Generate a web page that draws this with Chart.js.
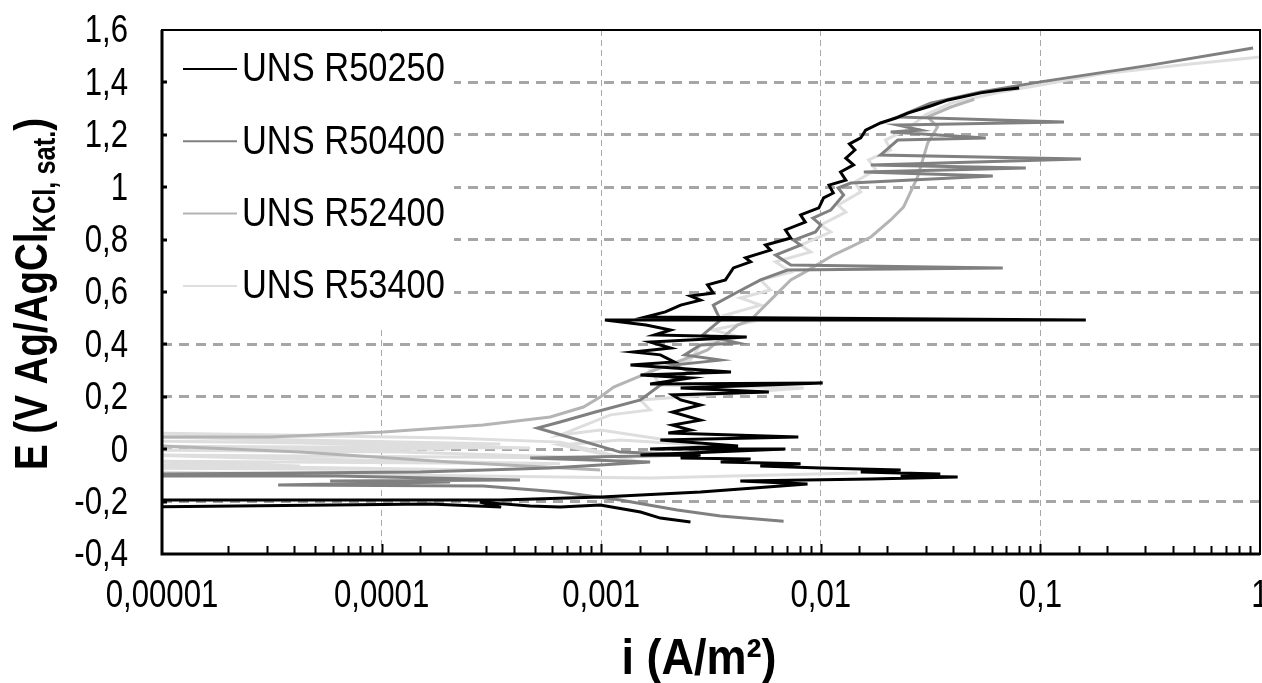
<!DOCTYPE html>
<html>
<head>
<meta charset="utf-8">
<script src="https://cdn.jsdelivr.net/npm/chart.js@4.4.1/dist/chart.umd.min.js"></script>
<style>
html, body { margin: 0; padding: 0; background: #fff; }
#wrap { width: 1262px; height: 683px; }
</style>
</head>
<body>
<div id="wrap"><canvas id="polarization"></canvas></div>
<script>
var seriesNames = ["UNS R50250", "UNS R50400", "UNS R52400", "UNS R53400"]
var seriesColors = ["#000000", "#808080", "#b4b4b4", "#dedede"]

// current density (A/m2) and potential (V) for each alloy, in scan order
var r50250Current = [2.55e-3, 1.86e-3, 1.51e-3, 9.9e-4, 6.5e-4, 4.75e-4, 2.8e-4, 3.5e-4, 1.66e-4, 8e-6,
    8e-6, 1.5e-4, 3.5e-4, 1.0e-3, 2.83e-3, 8.7e-3, 4.3e-3, 1.69e-2, 4.2e-2, 2.31e-2,
    3.5e-2, 1.52e-2, 2.31e-2, 1.0e-2, 5.3e-3, 8.09e-3, 3.5e-3, 4.79e-3, 2.3e-3, 2.83e-3,
    1.51e-3, 6.9e-3, 1.67e-3, 4.2e-3, 1.86e-3, 7.9e-3, 2.02e-3, 2.55e-3, 2.11e-3, 2.83e-3,
    2.11e-3, 2.83e-3, 2.3e-3, 2.11e-3, 5.8e-3, 2.3e-3, 1.02e-2, 1.67e-3, 2.55e-3, 1.51e-3,
    3.9e-3, 1.36e-3, 2.15e-3, 1.86e-3, 1.4e-3, 2.07e-3, 1.67e-3, 4.6e-3, 1.75e-3, 2.07e-3,
    1.6e-3, 1.04e-3, 0.161, 1.6e-3, 1.96e-3, 2.3e-3, 2.83e-3, 2.55e-3, 3.24e-3, 3.05e-3,
    3.68e-3, 4.0e-3, 4.79e-3, 4.54e-3, 5.9e-3, 5.6e-3, 7.3e-3, 6.9e-3, 8.5e-3, 8.09e-3,
    9.8e-3, 1.03e-2, 1.14e-2, 1.09e-2, 1.3e-2, 1.23e-2, 1.41e-2, 1.3e-2, 1.43e-2, 1.35e-2,
    1.52e-2, 1.6e-2, 1.87e-2, 2.2e-2, 2.49e-2, 3.16e-2, 3.8e-2, 5.35e-2, 6.6e-2, 8.0e-2]
var r50250Potential = [-0.278, -0.263, -0.24, -0.213, -0.221, -0.217, -0.202, -0.221, -0.209, -0.221,
    -0.194, -0.194, -0.194, -0.182, -0.163, -0.133, -0.121, -0.114, -0.106, -0.102,
    -0.095, -0.087, -0.079, -0.072, -0.064, -0.056, -0.049, -0.037, -0.034, -0.022,
    -0.022, 0.001, 0.001, 0.012, 0.035, 0.047, 0.062, 0.073, 0.092, 0.111,
    0.142, 0.169, 0.188, 0.207, 0.218, 0.234, 0.253, 0.249, 0.272, 0.283,
    0.295, 0.321, 0.333, 0.36, 0.371, 0.386, 0.409, 0.428, 0.436, 0.455,
    0.474, 0.493, 0.493, 0.505, 0.524, 0.55, 0.569, 0.585, 0.596, 0.627,
    0.646, 0.692, 0.715, 0.73, 0.76, 0.779, 0.806, 0.837, 0.867, 0.894,
    0.921, 0.959, 0.978, 1.008, 1.027, 1.058, 1.085, 1.111, 1.142, 1.165,
    1.188, 1.218, 1.245, 1.264, 1.283, 1.31, 1.333, 1.36, 1.371, 1.379]

var r50400Current = [6.77e-3, 3.49e-3, 2.22e-3, 1.22e-3, 6.5e-4, 2.9e-4, 3.38e-5, 2.05e-4, 5.83e-5, 4.27e-4,
    1.66e-4, 6.3e-5, 8e-6, 8e-6, 1.5e-4, 5.86e-4, 1.67e-3, 4.75e-4, 2.83e-3, 1.22e-3,
    5.12e-4, 6.5e-4, 9.4e-4, 1.51e-3, 1.86e-3, 2.55e-3, 2.13e-3, 3.49e-3, 2.4e-3, 2.83e-3,
    4.2e-3, 2.9e-3, 3.49e-3, 3.24e-3, 4.18e-3, 5.32e-3, 7.06e-3, 6.74e-2, 7.3e-3, 6.22e-3,
    8.09e-3, 7.52e-3, 9.46e-3, 1.0e-2, 9.2e-3, 1.11e-2, 1.27e-2, 1.2e-2, 1.37e-2, 6.07e-2,
    1.57e-2, 8.58e-2, 1.69e-2, 0.153, 1.87e-2, 2.24e-2, 5.64e-2, 2.08e-2, 2.85e-2, 2.24e-2,
    0.128, 2.24e-2, 3.16e-2, 5.35e-2, 0.1, 0.318, 0.93]
var r50400Potential = [-0.275, -0.255, -0.232, -0.194, -0.163, -0.14, -0.137, -0.125, -0.121, -0.118,
    -0.11, -0.102, -0.102, -0.095, -0.087, -0.072, -0.049, -0.034, -0.022, -0.011,
    0.081, 0.104, 0.142, 0.188, 0.245, 0.295, 0.321, 0.34, 0.36, 0.398,
    0.405, 0.436, 0.493, 0.55, 0.6, 0.646, 0.684, 0.692, 0.703, 0.741,
    0.779, 0.798, 0.829, 0.856, 0.882, 0.913, 0.97, 0.997, 1.016, 1.043,
    1.058, 1.073, 1.085, 1.108, 1.123, 1.18, 1.188, 1.211, 1.218, 1.237,
    1.249, 1.268, 1.321, 1.363, 1.402, 1.466, 1.531]

var r52400Current = [9.9e-4, 2.05e-4, 4.26e-5, 8e-6, 8e-6, 3.1e-5, 1.02e-4, 2.9e-4, 5.86e-4, 8.3e-4,
    9.9e-4, 1.14e-3, 1.67e-3, 2.55e-3, 3.05e-3, 4.18e-3, 4.79e-3, 5.9e-3, 7.3e-3, 8.35e-3,
    1.14e-2, 1.37e-2, 1.69e-2, 2.08e-2, 2.38e-2, 2.76e-2, 3.07e-2, 3.4e-2, 3.07e-2, 3.91e-2,
    5.0e-2]
var r52400Potential = [-0.079, -0.049, -0.011, 0.016, 0.047, 0.047, 0.066, 0.092, 0.123, 0.161,
    0.199, 0.237, 0.295, 0.352, 0.379, 0.474, 0.493, 0.569, 0.646, 0.673,
    0.741, 0.772, 0.81, 0.875, 0.924, 1.039, 1.169, 1.23, 1.268, 1.306,
    1.335]

var r53400Current = [1.47e-2, 1.67e-3, 6.5e-4, 1.22e-4, 8e-6, 8e-6, 2.81e-4, 8e-6, 4.26e-5, 8e-6,
    6.5e-4, 2.52e-5, 8e-6, 9.9e-4, 1.22e-4, 8e-6, 2.05e-4, 8e-6, 4.75e-4, 4.26e-5,
    8e-6, 3.47e-4, 8e-6, 7.2e-5, 8e-6, 2.05e-4, 6.5e-4, 1.51e-3, 6.5e-4, 1.22e-3,
    2.83e-3, 9.9e-4, 6.5e-4, 1.1e-3, 1.67e-3, 1.51e-3, 8.35e-3, 1.86e-3, 1.67e-3, 2.55e-3,
    2.83e-3, 4.3e-3, 3.21e-3, 4.79e-3, 3.68e-3, 5.32e-3, 4.3e-3, 5.9e-3, 5.32e-3, 7.3e-3,
    6.22e-3, 9.0e-3, 8.09e-3, 1.11e-2, 1.0e-2, 1.3e-2, 1.2e-2, 1.52e-2, 1.43e-2, 1.78e-2,
    1.65e-2, 2.08e-2, 1.97e-2, 2.44e-2, 3.0e-2, 3.91e-2, 6.6e-2, 0.1, 0.188, 0.437,
    1.01]
var r53400Potential = [-0.091, -0.11, -0.106, -0.098, -0.087, -0.072, -0.079, -0.06, -0.064, -0.045,
    -0.056, -0.034, -0.022, -0.034, -0.011, -0.003, 0.001, 0.012, 0.005, 0.024,
    0.031, 0.02, 0.047, 0.05, 0.062, 0.043, 0.027, -0.049, 0.016, 0.035,
    0.016, 0.073, 0.054, 0.131, 0.15, 0.188, 0.234, 0.245, 0.302, 0.34,
    0.398, 0.428, 0.455, 0.485, 0.512, 0.55, 0.577, 0.608, 0.646, 0.676,
    0.715, 0.753, 0.779, 0.829, 0.856, 0.905, 0.932, 0.982, 1.02, 1.066,
    1.104, 1.142, 1.18, 1.218, 1.276, 1.321, 1.363, 1.39, 1.432, 1.466,
    1.497]

var yTicks = [-0.4, -0.2, 0, 0.2, 0.4, 0.6, 0.8, 1, 1.2, 1.4, 1.6]

// Arial-metric face squeezed horizontally to read as a narrow font
var FACE = "'Liberation Sans', Arial, sans-serif"
var SQUEEZE = 0.82

function toPoints(current, potential) {
    return current.map(function (x, k) {
        return { x: x, y: potential[k] }
    })
}

function isDecade(v) {
    var l = Math.log10(v)
    return Math.abs(l - Math.round(l)) < 1e-6
}

function decadeLabel(v) {
    var e = Math.round(Math.log10(v))
    if (e >= 0) return "1"
    return "0," + "0".repeat(-e - 1) + "1"
}

function commaLabel(v) {
    return (Math.round(v * 10) / 10).toString().replace(".", ",")
}

function narrowText(ctx, text, x, y, font, align, squeeze) {
    ctx.save()
    ctx.font = font
    ctx.textAlign = align
    ctx.translate(x, y)
    ctx.scale(squeeze || SQUEEZE, 1)
    ctx.fillText(text, 0, 0)
    ctx.restore()
}

var curves = [
    toPoints(r50250Current, r50250Potential),
    toPoints(r50400Current, r50400Potential),
    toPoints(r52400Current, r52400Potential),
    toPoints(r53400Current, r53400Potential),
]

// box, inner tick marks, tick labels, legend and axis titles
var frame = {
    id: "frame",
    afterDraw: function (chart) {
        var ctx = chart.ctx
        var a = chart.chartArea
        var xs = chart.scales.x
        var ys = chart.scales.y
        ctx.save()

        // legend panel hides the grid behind it
        ctx.fillStyle = "#fff"
        ctx.fillRect(a.left + 2, a.top + 2, 452 - a.left, 325 - a.top)
        ctx.textBaseline = "middle"
        chart.data.datasets.forEach(function (ds, k) {
            var y = 69 + k * 72.3
            ctx.strokeStyle = ds.borderColor
            ctx.lineWidth = 2
            ctx.beginPath()
            ctx.moveTo(183, y)
            ctx.lineTo(237, y)
            ctx.stroke()
            ctx.fillStyle = "#000"
            narrowText(ctx, ds.label, 242, y + 1, "41px " + FACE, "left", 0.84)
        })

        // plot box
        ctx.strokeStyle = "#000"
        ctx.lineWidth = 2
        ctx.strokeRect(a.left, a.top, a.right - a.left, a.bottom - a.top)
        ctx.lineWidth = 3
        ctx.beginPath()
        ctx.moveTo(a.left, a.top)
        ctx.lineTo(a.left, a.bottom)
        ctx.lineTo(a.right, a.bottom)
        ctx.stroke()

        // x ticks point up into the plot
        ctx.lineWidth = 2
        ctx.beginPath()
        xs.ticks.forEach(function (t) {
            var px = Math.round(xs.getPixelForValue(t.value)) + 0.5
            if (px <= a.left + 1 || px >= a.right - 1) return
            ctx.moveTo(px, a.bottom)
            ctx.lineTo(px, a.bottom - (isDecade(t.value) ? 10 : 8))
        })
        ctx.stroke()

        // y ticks point right into the plot
        ctx.lineWidth = 3
        ctx.beginPath()
        yTicks.forEach(function (v) {
            var py = Math.round(ys.getPixelForValue(v))
            if (py <= a.top + 1 || py >= a.bottom - 1) return
            ctx.moveTo(a.left, py)
            ctx.lineTo(a.left + 5, py)
        })
        ctx.stroke()

        // tick labels
        ctx.fillStyle = "#000"
        ctx.textBaseline = "middle"
        yTicks.forEach(function (v) {
            narrowText(ctx, commaLabel(v), 128, ys.getPixelForValue(v) + 2, "38px " + FACE, "right")
        })
        ctx.textBaseline = "alphabetic"
        xs.ticks.forEach(function (t) {
            if (!isDecade(t.value)) return
            narrowText(ctx, decadeLabel(t.value), xs.getPixelForValue(t.value), 607, "38px " + FACE, "center")
        })

        // y title with subscript
        var main = "E (V Ag/AgCl"
        var sub = "KCl, sat."
        var close = ")"
        var big = "bold 47px " + FACE
        var small = "bold 31px " + FACE
        ctx.font = big
        var wMain = ctx.measureText(main).width * SQUEEZE
        var wClose = ctx.measureText(close).width * SQUEEZE
        ctx.font = small
        var wSub = ctx.measureText(sub).width * SQUEEZE
        var total = wMain + wSub + wClose
        ctx.save()
        ctx.translate(47, 294)
        ctx.rotate(-Math.PI / 2)
        var x0 = -total / 2
        narrowText(ctx, main, x0, 0, big, "left")
        narrowText(ctx, sub, x0 + wMain, 8, small, "left")
        narrowText(ctx, close, x0 + wMain + wSub, 0, big, "left")
        ctx.restore()

        // x title
        narrowText(ctx, "i (A/m²)", 699, 674, "bold 50px " + FACE, "center", 0.9)
        ctx.restore()
    },
}

new Chart("polarization", {
    type: "scatter",
    data: {
        datasets: curves.map(function (pts, k) {
            return {
                label: seriesNames[k],
                data: pts,
                showLine: true,
                borderColor: seriesColors[k],
                backgroundColor: seriesColors[k],
                borderWidth: 3,
                pointRadius: 0,
                tension: 0,
            }
        }),
    },
    options: {
        responsive: true,
        maintainAspectRatio: false,
        devicePixelRatio: 1,
        animation: false,
        layout: { padding: { left: 0, top: 30, right: 2, bottom: 0 } },
        plugins: {
            legend: { display: false },
            tooltip: { enabled: false },
        },
        scales: {
            x: {
                type: "logarithmic",
                min: 1e-5,
                max: 1,
                afterFit: function (s) { s.height = 129 },
                ticks: { display: false, autoSkip: false },
                grid: {
                    drawTicks: false,
                    lineWidth: 1,
                    color: function (c) {
                        var v = c.tick && c.tick.value
                        if (!v || !isDecade(v) || v <= 1e-5 || v >= 1) return "rgba(0,0,0,0)"
                        return "#a8a8a8"
                    },
                },
                border: { display: false, dash: [6, 4] },
            },
            y: {
                min: -0.4,
                max: 1.6,
                afterFit: function (s) { s.width = 162 },
                afterBuildTicks: function (s) {
                    s.ticks = yTicks.map(function (v) { return { value: v } })
                },
                ticks: { display: false, autoSkip: false },
                grid: {
                    drawTicks: false,
                    lineWidth: 3,
                    color: function (c) {
                        var v = c.tick && c.tick.value
                        if (v === undefined || v <= -0.4 || v >= 1.6) return "rgba(0,0,0,0)"
                        return "#a6a6a6"
                    },
                },
                border: { display: false, dash: [10, 7] },
            },
        },
    },
    plugins: [frame],
})
</script>
</body>
</html>
